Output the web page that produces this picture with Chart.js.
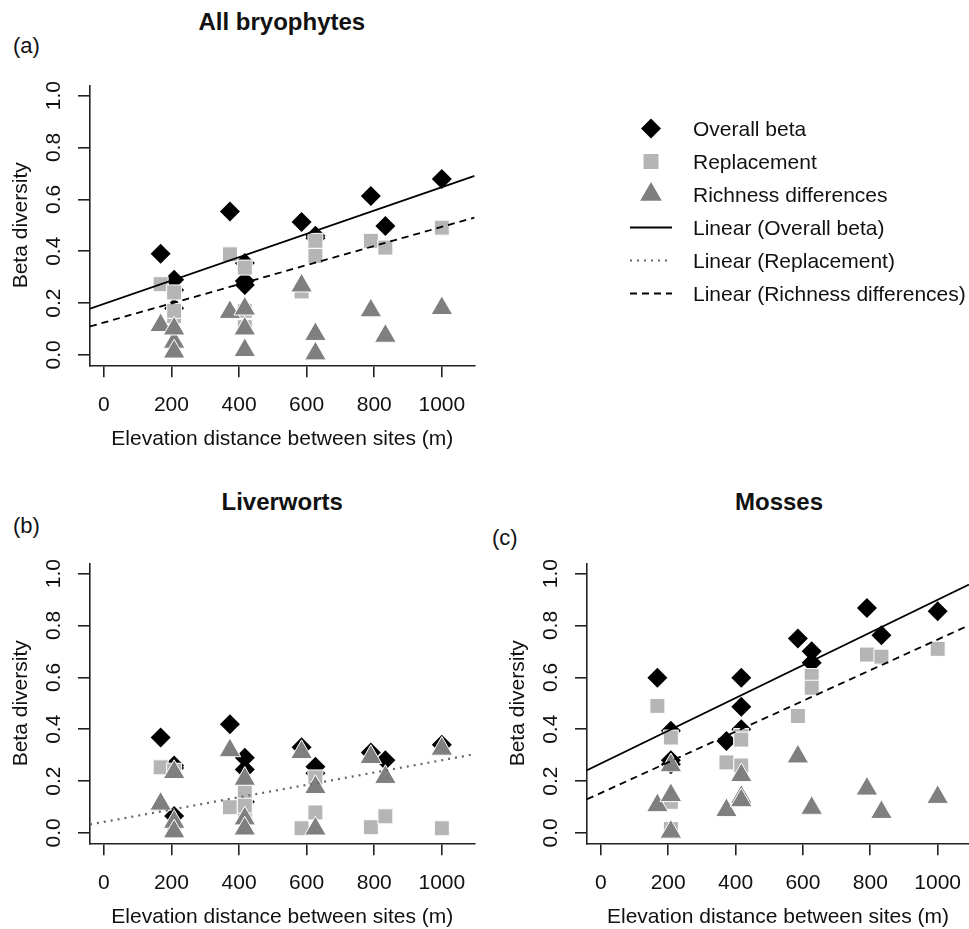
<!DOCTYPE html>
<html>
<head>
<meta charset="utf-8">
<script src="https://cdn.jsdelivr.net/npm/chart.js@4.4.1/dist/chart.umd.min.js"></script>
<style>
  html, body { margin: 0; padding: 0; background: #fff; overflow: hidden; }
  body { width: 969px; height: 929px; position: relative; font-family: "Liberation Sans", Arial, sans-serif; color: #111; }
  canvas { position: absolute; }
  .txt { position: absolute; white-space: nowrap; line-height: 1; }
  .ttl { font-weight: bold; font-size: 24px; }
  .tag { font-size: 22px; }
  .leg { font-size: 21px; }
  #legsym { position: absolute; left: 0; top: 0; }
</style>
</head>
<body>
<div class="txt ttl" id="t1">All bryophytes</div>
<div class="txt ttl" id="t2">Liverworts</div>
<div class="txt ttl" id="t3">Mosses</div>
<div class="txt tag" style="left:13px;top:35px">(a)</div>
<div class="txt tag" style="left:13px;top:515px">(b)</div>
<div class="txt tag" style="left:492px;top:527px">(c)</div>
<canvas id="cA" width="490" height="400" style="left:0;top:60px"></canvas>
<canvas id="cB" width="490" height="400" style="left:0;top:538.3px"></canvas>
<canvas id="cC" width="500" height="400" style="left:497px;top:538.3px"></canvas>
<svg id="legsym" width="969" height="340"></svg>
<div id="legend"></div>
<script>
// ticks
const xTicks = [0, 200, 400, 600, 800, 1000];
const yTicks = [0, 0.2, 0.4, 0.6, 0.8, 1.0];

// elevation distance of each site pair (m)
const elevDist = [168, 208, 208, 208, 373, 417, 417, 417, 585, 626, 626, 790, 833, 1000];

// (a) all bryophytes
const allOverall = [0.39, 0.29, 0.25, 0.18, 0.553, 0.355, 0.285, 0.27, 0.513, 0.45, 0.46, 0.613, 0.497, 0.679];
const allRepl    = [0.273, 0.241, 0.15, 0.17, 0.388, 0.337, 0.107, 0.17, 0.245, 0.44, 0.382, 0.44, 0.414, 0.491];
const allRich    = [0.114, 0.05, 0.101, 0.012, 0.165, 0.018, 0.178, 0.101, 0.267, 0.005, 0.08, 0.171, 0.073, 0.18];

// (b) liverworts
const livOverall = [0.368, 0.26, 0.065, 0.25, 0.419, 0.29, 0.245, 0.12, 0.33, 0.255, 0.23, 0.31, 0.28, 0.34];
const livRepl    = [0.253, 0.02, 0.015, 0.24, 0.099, 0.085, 0.156, 0.105, 0.018, 0.079, 0.214, 0.022, 0.064, 0.018];
const livRich    = [0.112, 0.234, 0.042, 0.005, 0.318, 0.208, 0.055, 0.016, 0.311, 0.176, 0.016, 0.292, 0.215, 0.324];

// (c) mosses
const mosOverall = [0.599, 0.394, 0.28, 0.265, 0.355, 0.599, 0.4, 0.487, 0.75, 0.701, 0.656, 0.868, 0.762, 0.855];
const mosRepl    = [0.49, 0.368, 0.015, 0.12, 0.272, 0.374, 0.26, 0.36, 0.451, 0.605, 0.56, 0.688, 0.68, 0.71];
const mosRich    = [0.106, 0.004, 0.26, 0.145, 0.087, 0.222, 0.138, 0.125, 0.294, 0.093, 0.096, 0.17, 0.08, 0.138];

// fitted trend lines [intercept, slope]
const allFitOverall = [0.197, 0.00045];
const allFitRich    = [0.125, 0.000369];
const livFitRepl    = [0.0425, 0.000238];
const mosFitOverall = [0.2675, 0.000632];
const mosFitRich    = [0.154, 0.000592];

const seriesNames = ['Overall beta', 'Replacement', 'Richness differences',
  'Linear (Overall beta)', 'Linear (Replacement)', 'Linear (Richness differences)'];

const FONT = '"Liberation Sans", Arial, sans-serif';
const INK = '#111';
const AXIS = '#222';
const COL_OVERALL = '#000';
const COL_REPL = '#b5b5b5';
const COL_RICH = '#7f7f7f';
const COL_DOT = '#666';
const LINE_STYLES = {
  overall: { color: '#000', dash: [] },
  repl: { color: COL_DOT, dash: [2, 5] },
  rich: { color: '#000', dash: [7, 5] }
};

// rotated y tick labels, like base R
const yTickLabels = {
  id: 'yTickLabels',
  afterDraw(chart) {
    const { ctx, chartArea, scales: { y } } = chart;
    ctx.save();
    ctx.fillStyle = INK;
    ctx.font = '21px ' + FONT;
    ctx.textAlign = 'center';
    ctx.textBaseline = 'middle';
    yTicks.forEach(v => {
      ctx.save();
      ctx.translate(chartArea.left - 37, y.getPixelForValue(v));
      ctx.rotate(-Math.PI / 2);
      ctx.fillText(v.toFixed(1), 0, 1);
      ctx.restore();
    });
    ctx.restore();
  }
};

function pts(ys) {
  return ys.map((v, i) => ({ x: elevDist[i], y: v }));
}

function fitLine(fit, style, xMin, xMax) {
  return {
    showLine: true,
    pointRadius: 0,
    borderColor: style.color,
    borderWidth: style === LINE_STYLES.repl ? 2.2 : 1.8,
    borderDash: style.dash,
    data: [{ x: xMin, y: fit[0] + fit[1] * xMin }, { x: xMax, y: fit[0] + fit[1] * xMax }]
  };
}

function makePanel(id, overall, repl, rich, fits, xMax, padRight) {
  const xMin = -41;
  const lines = fits.map(f => fitLine(f[0], f[1], xMin, xMax));
  const datasets = lines.concat([
    { data: pts(rich), pointStyle: 'triangle', pointRadius: 12.5, backgroundColor: COL_RICH, borderColor: '#fff', borderWidth: 1 },
    { data: pts(repl), pointStyle: 'rect', pointRadius: 10.6, backgroundColor: COL_REPL, borderColor: '#fff', borderWidth: 1 },
    { data: pts(overall), pointStyle: 'rectRot', pointRadius: 10, backgroundColor: COL_OVERALL, borderColor: COL_OVERALL, borderWidth: 0 }
  ]);
  const gridOpts = { drawOnChartArea: false, tickLength: 12, color: AXIS, lineWidth: 1.6 };
  const borderOpts = { color: AXIS, width: 1.6 };
  new Chart(document.getElementById(id), {
    type: 'scatter',
    data: { datasets: datasets },
    options: {
      responsive: false,
      animation: false,
      events: [],
      layout: { padding: { left: 0, top: 25.3, right: padRight, bottom: 0 } },
      plugins: { legend: { display: false }, tooltip: { enabled: false } },
      scales: {
        x: {
          type: 'linear', min: xMin, max: xMax,
          afterBuildTicks: s => { s.ticks = xTicks.map(v => ({ value: v })); },
          afterFit: s => { s.height = 94.7; },
          grid: gridOpts, border: borderOpts,
          ticks: { padding: 15, color: INK, font: { family: FONT, size: 21 }, maxRotation: 0, autoSkip: false,
                   callback: v => String(v) },
          title: { display: true, text: 'Elevation distance between sites (m)', color: INK,
                   font: { family: FONT, size: 21 }, padding: { top: 0, bottom: 8.4 } }
        },
        y: {
          type: 'linear', min: -0.04, max: 1.04,
          afterBuildTicks: s => { s.ticks = yTicks.map(v => ({ value: v })); },
          afterFit: s => { s.width = 90; },
          grid: gridOpts, border: borderOpts,
          ticks: { display: false },
          title: { display: true, text: 'Beta diversity', color: INK,
                   font: { family: FONT, size: 21 }, padding: { top: 8.4, bottom: 0 } }
        }
      }
    },
    plugins: [yTickLabels]
  });
}

makePanel('cA', allOverall, allRepl, allRich,
  [[allFitOverall, LINE_STYLES.overall], [allFitRich, LINE_STYLES.rich]], 1097, 15.4);
makePanel('cB', livOverall, livRepl, livRich,
  [[livFitRepl, LINE_STYLES.repl]], 1097, 15.4);
makePanel('cC', mosOverall, mosRepl, mosRich,
  [[mosFitOverall, LINE_STYLES.overall], [mosFitRich, LINE_STYLES.rich]], 1093, 28);

// titles, centred over the plot regions
function centreText(elId, cx, baseline) {
  const el = document.getElementById(elId);
  const size = parseFloat(getComputedStyle(el).fontSize);
  el.style.left = (cx - el.offsetWidth / 2) + 'px';
  el.style.top = (baseline - 0.8465 * size) + 'px';
}
centreText('t1', 282, 30);
centreText('t2', 282, 510);
centreText('t3', 779, 510);

// legend
const legBase = [136, 169, 202, 235, 268, 301];
const legKinds = ['diamond', 'square', 'triangle', 'overall', 'repl', 'rich'];
const svgNS = 'http://www.w3.org/2000/svg';
const svg = document.getElementById('legsym');
const legDiv = document.getElementById('legend');
seriesNames.forEach((name, i) => {
  const cy = legBase[i] - 7.5;
  const cx = 651;
  const kind = legKinds[i];
  let shape;
  if (kind === 'diamond') {
    shape = document.createElementNS(svgNS, 'polygon');
    shape.setAttribute('points', `${cx - 10},${cy} ${cx},${cy - 10} ${cx + 10},${cy} ${cx},${cy + 10}`);
    shape.setAttribute('fill', COL_OVERALL);
  } else if (kind === 'square') {
    shape = document.createElementNS(svgNS, 'rect');
    shape.setAttribute('x', cx - 7.5); shape.setAttribute('y', cy - 7.5);
    shape.setAttribute('width', 15); shape.setAttribute('height', 15);
    shape.setAttribute('fill', COL_REPL);
  } else if (kind === 'triangle') {
    shape = document.createElementNS(svgNS, 'polygon');
    shape.setAttribute('points', `${cx},${cy - 12.5} ${cx + 10.83},${cy + 6.25} ${cx - 10.83},${cy + 6.25}`);
    shape.setAttribute('fill', COL_RICH);
  } else {
    const st = LINE_STYLES[kind];
    shape = document.createElementNS(svgNS, 'line');
    shape.setAttribute('x1', 630); shape.setAttribute('x2', 672);
    shape.setAttribute('y1', cy); shape.setAttribute('y2', cy);
    shape.setAttribute('stroke', st.color);
    shape.setAttribute('stroke-width', kind === 'repl' ? 2 : 1.8);
    if (st.dash.length) shape.setAttribute('stroke-dasharray', st.dash.join(' '));
  }
  svg.appendChild(shape);

  const t = document.createElement('div');
  t.className = 'txt leg';
  t.textContent = name;
  t.style.left = '693px';
  t.style.top = (legBase[i] - 0.8465 * 21) + 'px';
  legDiv.appendChild(t);
});
</script>
</body>
</html>
